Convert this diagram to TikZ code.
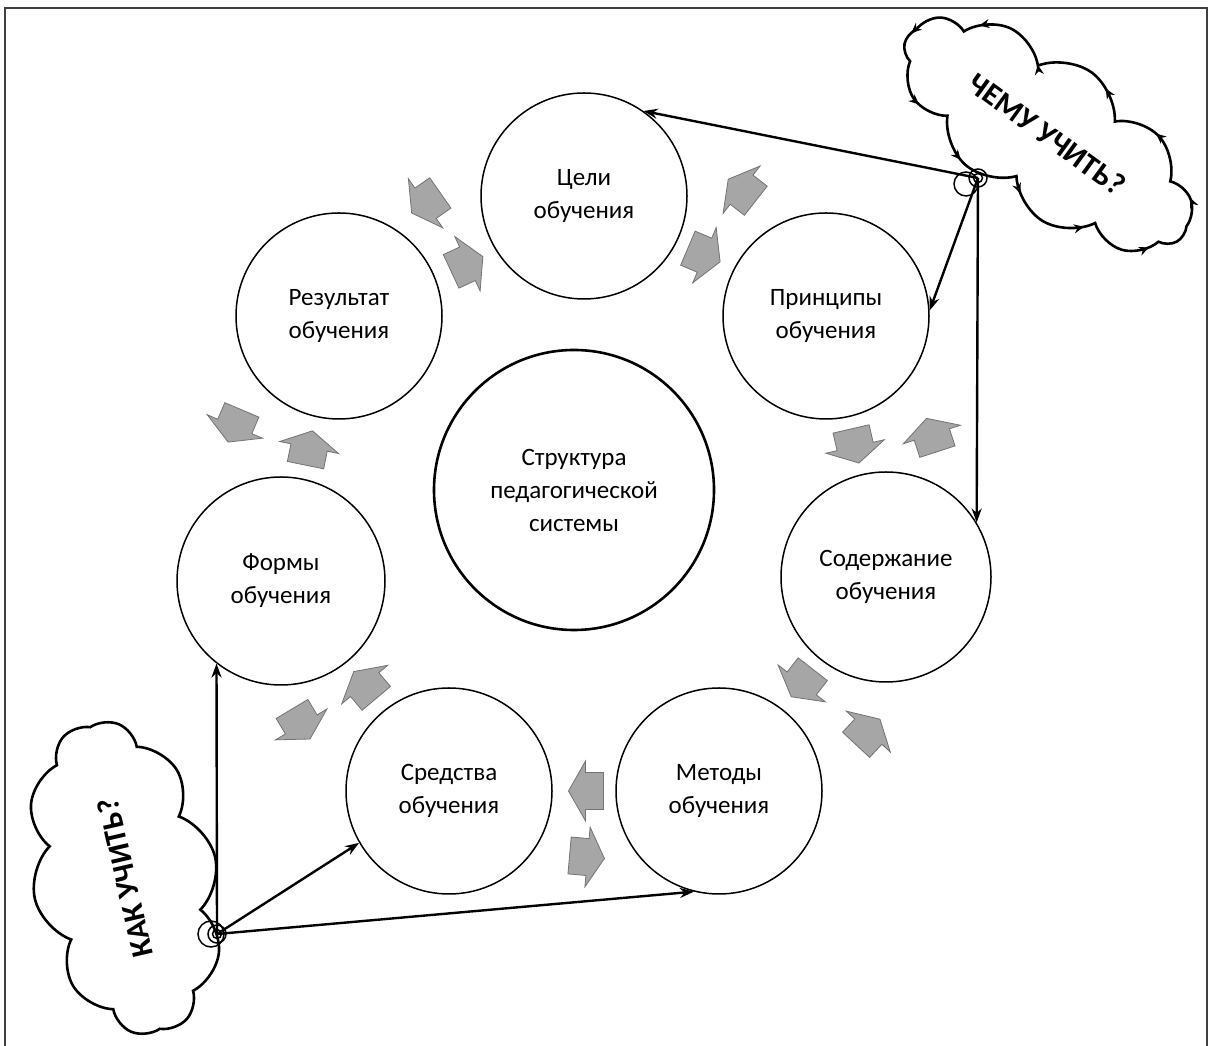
\documentclass[tikz,border=0pt]{standalone}
\usepackage{fontspec}
\setmainfont{Carlito}
\usetikzlibrary{shapes.symbols,arrows.meta,decorations.markings}
\definecolor{blkfill}{RGB}{166,166,166}
\definecolor{blkline}{RGB}{115,115,115}
\definecolor{framec}{RGB}{64,64,64}
\begin{document}
\begin{tikzpicture}[x=1pt,y=1pt,
  circ/.style={circle,draw,line width=1.5pt,minimum size=206pt,inner sep=0pt,align=center,font=\fontsize{25}{33}\selectfont},
  conn/.style={line width=2.4pt,-{Stealth[length=14pt,width=10pt]}},
  cloudbox/.style={cloud,draw,line width=2.6pt,cloud ignores aspect,align=center,font=\bfseries\fontsize{31}{34}\selectfont},
  ring/.style={circle,draw,line width=1.5pt,inner sep=0pt},
  blk/.pic={\draw[fill=blkfill,draw=blkline,line width=0.8pt,line join=miter]
     (-17.5,-18.5) -- (0.5,-18.5) -- (0.5,-30) -- (17.5,0) -- (0.5,30) -- (0.5,18.5) -- (-17.5,18.5) -- cycle;}
]
\useasboundingbox (0,0) rectangle (1215,1046);
% frame
\draw[framec,line width=2pt] (5,0) -- (5,1038) -- (1207,1038) -- (1207,0);

% circles
\node[circ] (celi)  at (584,850) {Цели\\обучения};
\node[circ] (princ) at (826,730) {Принципы\\обучения};
\node[circ,minimum size=210pt] (sod) at (886,469) {Содержание\\обучения};
\node[circ] (met)   at (719,255) {Методы\\обучения};
\node[circ] (sred)  at (449,255) {Средства\\обучения};
\node[circ,minimum size=208pt] (form) at (281,465) {Формы\\обучения};
\node[circ] (rez)   at (339,730) {Результат\\обучения};
\node[circ,minimum size=280pt,line width=2.6pt] (core) at (574,556) {Структура\\педагогической\\системы};

% block arrows
\pic[rotate=215]  at (426,843) {blk};
\pic[rotate=25]   at (467,782) {blk};
\pic[rotate=142]  at (742,856) {blk};
\pic[rotate=-23]  at (704,791) {blk};
\pic[rotate=-77]  at (855,600) {blk};
\pic[rotate=108]  at (932,611) {blk};
\pic[rotate=232]  at (802,363) {blk};
\pic[rotate=47]   at (868,314) {blk};
\pic[rotate=180]  at (586,255) {blk};
\pic[rotate=-5]   at (587,189) {blk};
\pic[rotate=130]  at (365,361) {blk};
\pic[rotate=-59]  at (301,322) {blk};
\pic[rotate=-113] at (235,620) {blk};
\pic[rotate=78.5] at (309,598) {blk};

% clouds
\node[cloudbox,cloud puffs=11,cloud puff arc=115,minimum width=340pt,minimum height=152pt,rotate=-36,
  postaction={decorate,decoration={markings,mark=between positions 0.04 and 1 step 0.0909 with {\arrow{Stealth[length=10pt,width=9pt]}}}}]
  (cloudA) at (1047,912) {ЧЕМУ УЧИТЬ?};
\node[cloudbox,cloud puffs=10,cloud puff arc=115,minimum width=318pt,minimum height=185pt,rotate=103]
  (cloudB) at (125,168) {КАК УЧИТЬ?};

% hubs
\coordinate (hubA) at (978,868);
\node[ring,minimum size=24pt] (hubAo) at (966,862) {};
\node[ring,minimum size=18pt] (hubAm) at (hubA) {};
\node[ring,minimum size=9pt] (hubAi) at (hubA) {};
\coordinate (hubB) at (217,112);
\node[ring,minimum size=26pt] (hubBo) at (211,112) {};
\node[ring,minimum size=18pt] (hubBm) at (hubB) {};
\node[ring,minimum size=9pt] (hubBi) at (hubB) {};

% connectors
\draw[conn] (hubA) -- (celi.55);
\draw[conn] (hubA) -- (princ.3);
\draw[conn] (hubA) -- (sod.31);
\draw[conn] (hubB) -- (form.232);
\draw[conn] (hubB) -- (sred.210);
\draw[conn] (hubB) -- (met.256);
\end{tikzpicture}
\end{document}
